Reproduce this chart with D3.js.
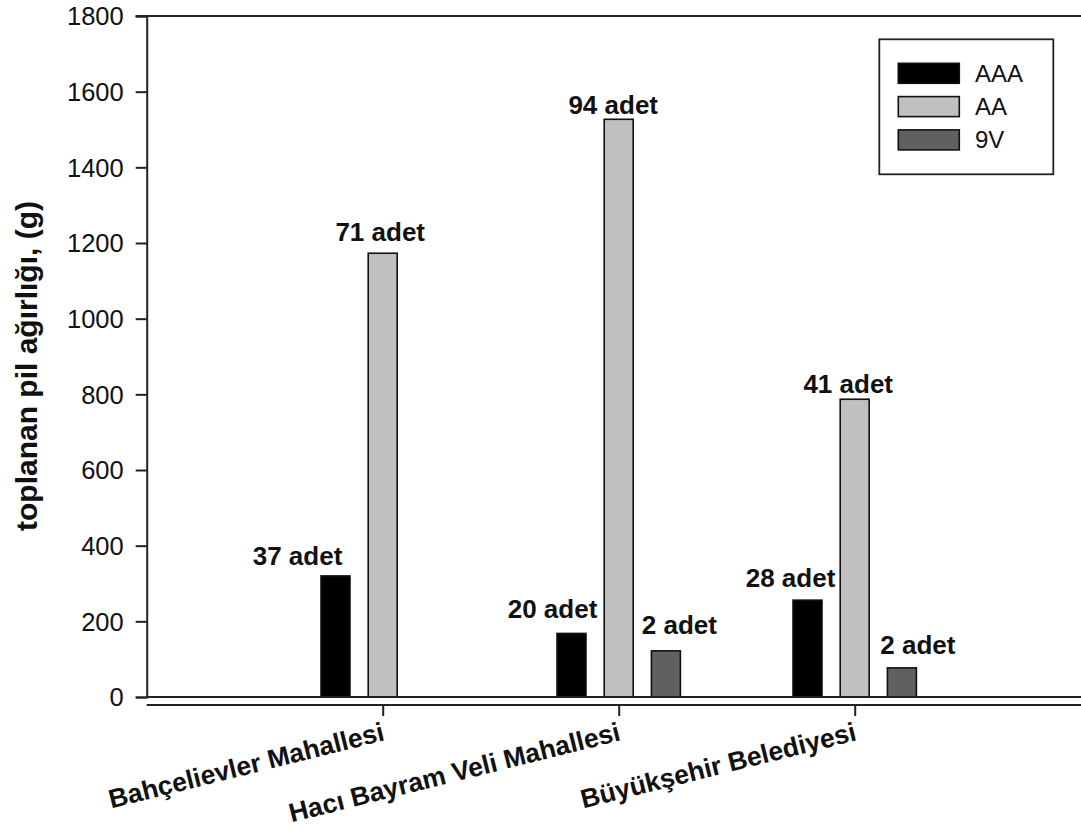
<!DOCTYPE html>
<html><head><meta charset="utf-8">
<script src="https://cdn.jsdelivr.net/npm/d3@7"></script>
<style>
html,body{margin:0;padding:0;background:#fff;}
svg{display:block;font-family:"Liberation Sans",Arial,sans-serif;}
</style></head><body>
<svg id="c" width="1081" height="834"></svg>
<script>
// ---- data ----
const categories = ["Bahçelievler Mahallesi", "Hacı Bayram Veli Mahallesi", "Büyükşehir Belediyesi"];
const series = ["AAA", "AA", "9V"];
const valuesAAA = [320, 168, 256];
const valuesAA = [1173, 1527, 787];
const values9V = [null, 122, 77];
const countsAAA = ["37 adet", "20 adet", "28 adet"];
const countsAA = ["71 adet", "94 adet", "41 adet"];
const counts9V = [null, "2 adet", "2 adet"];
const yTicks = [0, 200, 400, 600, 800, 1000, 1200, 1400, 1600, 1800];
const yTitle = "toplanan pil ağırlığı, (g)";

// ---- layout ----
const colors = {"AAA": "#000000", "AA": "#c0c0c0", "9V": "#606060"};
const labelShift = { // manual label nudges [dx, gap above bar]
  "AAA": [[-38, 11], [-19, 15], [-17, 13]],
  "AA": [[-2.5, 12], [-5.5, 5.5], [-6.5, 6]],
  "9V": [[0, 0], [13.5, 17], [16, 14]]
};
const plotLeft = 146.7, plotTop = 16, plotBottom = 697, plotRightEnd = 1090.7;

const svg = d3.select("#c");
const x = d3.scalePoint().domain(categories).range([plotLeft, plotRightEnd]).padding(1);
const xs = d3.scaleBand().domain(series).range([-70.8, 70.8]).paddingInner(0.386).paddingOuter(0.193);
const y = d3.scaleLinear().domain([0, 1800]).range([plotBottom, plotTop]);

const data = [];
const valMap = {"AAA": valuesAAA, "AA": valuesAA, "9V": values9V};
const cntMap = {"AAA": countsAAA, "AA": countsAA, "9V": counts9V};
categories.forEach((c, i) => series.forEach(s => {
  if (valMap[s][i] != null) data.push({c, s, i, v: valMap[s][i], label: cntMap[s][i]});
}));

// top line
svg.append("line").attr("x1", plotLeft - 11).attr("x2", 1081).attr("y1", plotTop).attr("y2", plotTop)
  .attr("stroke", "#222").attr("stroke-width", 2);

// bars
svg.append("g").selectAll("rect").data(data).join("rect")
  .attr("x", d => x(d.c) + xs(d.s))
  .attr("width", xs.bandwidth())
  .attr("y", d => y(d.v))
  .attr("height", d => y(0) - y(d.v))
  .attr("fill", d => colors[d.s])
  .attr("stroke", "#111").attr("stroke-width", 1.6);

// y axis
const yAxis = d3.axisLeft(y).tickValues(yTicks).tickSize(11).tickPadding(12).tickFormat(d3.format("d"));
const gy = svg.append("g").attr("transform", `translate(${plotLeft},0)`).call(yAxis);
gy.select(".domain").attr("stroke", "#222").attr("stroke-width", 2);
gy.selectAll(".tick line").attr("stroke", "#222").attr("stroke-width", 2);
gy.selectAll(".tick text").attr("font-size", 25.5).attr("fill", "#111")
  .attr("font-family", "'Liberation Sans',Arial,sans-serif").attr("dy", "0.35em");

// baseline across plot
svg.append("line").attr("x1", plotLeft).attr("x2", 1081).attr("y1", y(0)).attr("y2", y(0))
  .attr("stroke", "#222").attr("stroke-width", 2);

// x axis (offset below)
const xAxis = d3.axisBottom(x).tickSize(11).tickFormat("");
const gx = svg.append("g").attr("transform", `translate(0,705)`).call(xAxis);
gx.select(".domain").attr("d", `M${plotLeft},0H1081`).attr("stroke", "#222").attr("stroke-width", 2);
gx.selectAll(".tick line").attr("stroke", "#222").attr("stroke-width", 2);

// category labels
svg.append("g").selectAll("text").data(categories).join("text")
  .attr("transform", d => `translate(${x(d) + 3},740) rotate(-14)`)
  .attr("text-anchor", "end")
  .attr("font-size", 26.5).attr("font-weight", "bold").attr("fill", "#111")
  .text(d => d);

// value labels
svg.append("g").selectAll("text").data(data).join("text")
  .attr("x", d => x(d.c) + xs(d.s) + xs.bandwidth() / 2 + labelShift[d.s][d.i][0])
  .attr("y", d => y(d.v) - labelShift[d.s][d.i][1])
  .attr("text-anchor", "middle")
  .attr("font-size", 26).attr("font-weight", "bold").attr("fill", "#111")
  .text(d => d.label);

// y title
svg.append("text")
  .attr("transform", `translate(37,366) rotate(-90)`)
  .attr("text-anchor", "middle")
  .attr("font-size", 30).attr("font-weight", "bold").attr("fill", "#111")
  .text(yTitle);

// legend
const lg = svg.append("g");
lg.append("rect").attr("x", 879.3).attr("y", 39.3).attr("width", 174).attr("height", 135)
  .attr("fill", "#fff").attr("stroke", "#222").attr("stroke-width", 1.8);
series.forEach((s, i) => {
  lg.append("rect").attr("x", 898.3).attr("y", 63.3 + i * 33.3).attr("width", 61).attr("height", 20)
    .attr("fill", colors[s]).attr("stroke", "#111").attr("stroke-width", 1.6);
  lg.append("text").attr("x", 975).attr("y", 81.7 + i * 33.3)
    .attr("font-size", 24).attr("fill", "#111").text(s);
});
</script>
</body></html>
